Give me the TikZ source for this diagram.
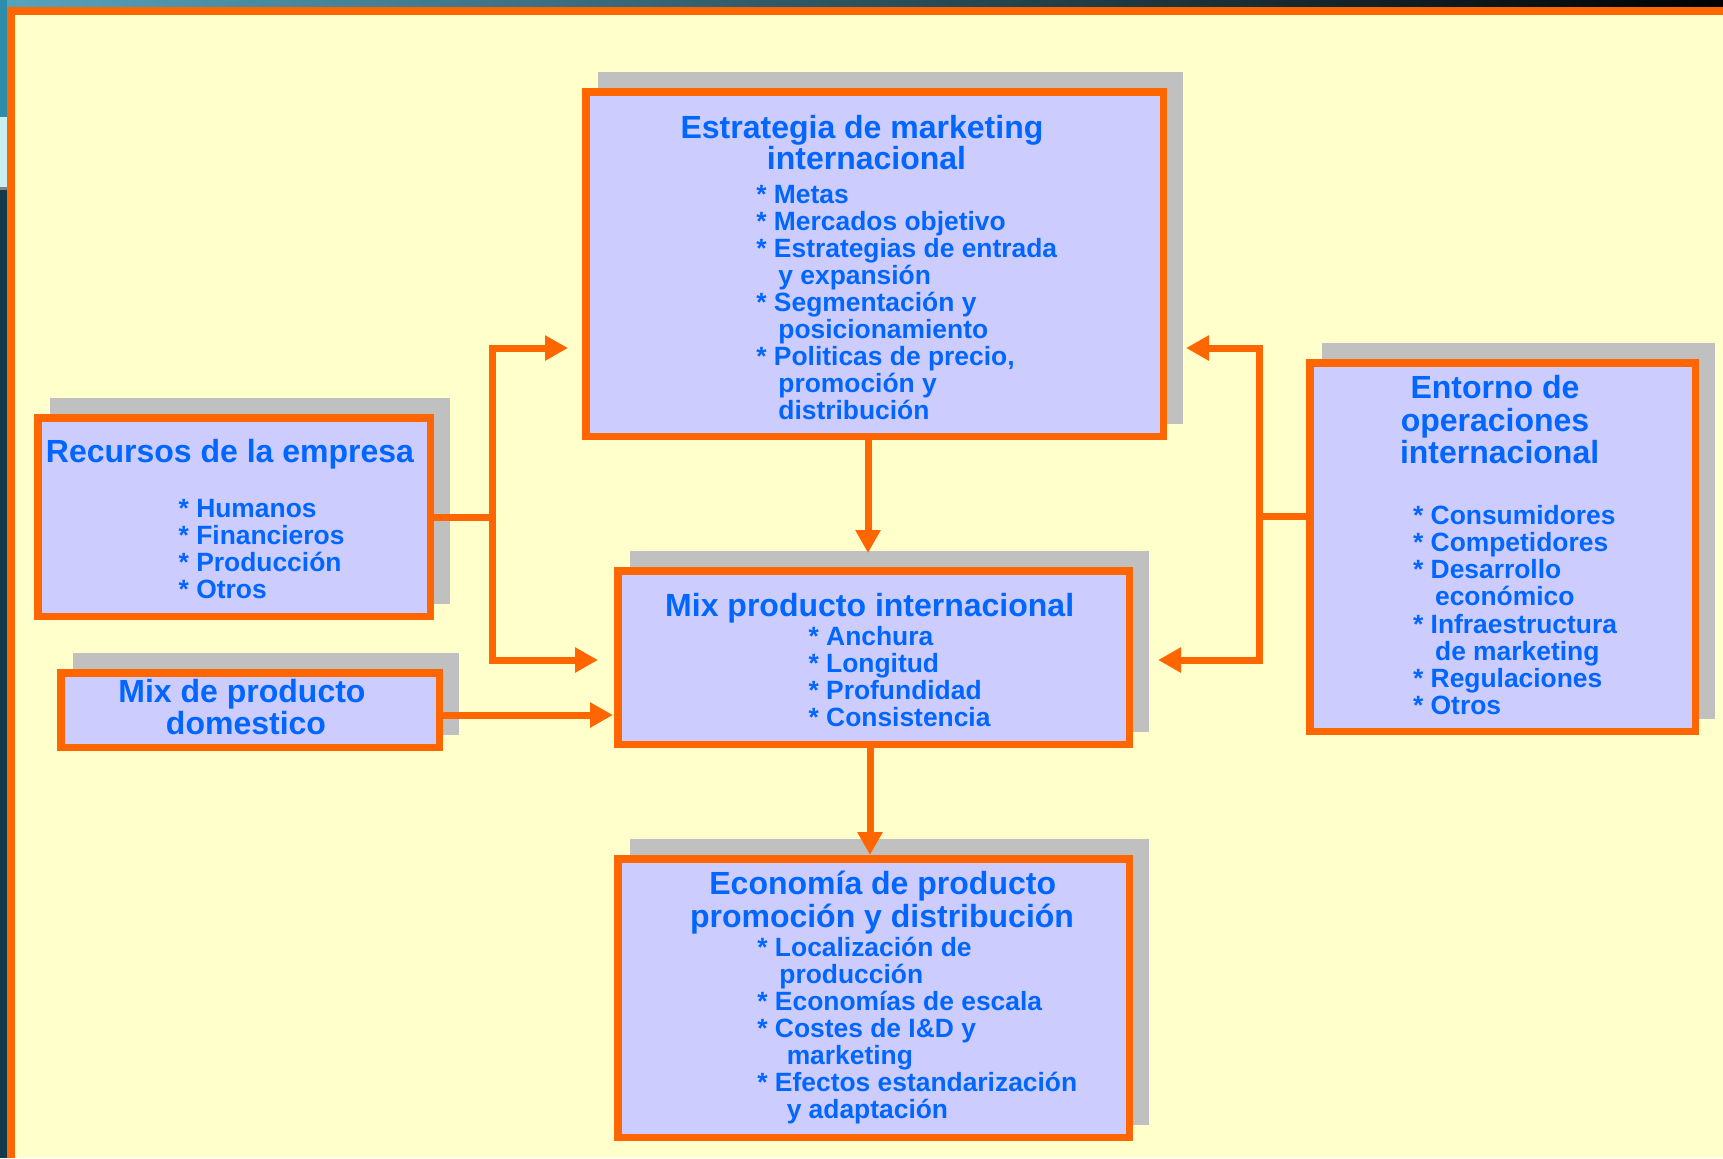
\documentclass[tikz,border=0pt]{standalone}
\usepackage{fontspec}
\setmainfont{Liberation Sans}
\usetikzlibrary{arrows.meta,calc}
\definecolor{orng}{HTML}{FF6600}
\definecolor{lav}{HTML}{CCCCFF}
\definecolor{shgray}{HTML}{C0C0C0}
\definecolor{bgy}{HTML}{FFFFCC}
\definecolor{tblue}{HTML}{0066FF}
\definecolor{darkstrip}{HTML}{123A4A}
\definecolor{lightstrip}{HTML}{C8F0F0}
\definecolor{tealstrip}{HTML}{2E8CAC}
\newcommand\indsp[1]{\hspace*{#1\fontdimen2\font}}
\begin{document}
\begin{tikzpicture}[x=0.5pt,y=-0.5pt,
  ttl/.style={font=\fontsize{16}{16}\selectfont\bfseries, text=tblue, inner sep=0pt, anchor=base},
  itm/.style={font=\fontsize{13.2}{13.2}\selectfont\bfseries, text=tblue, inner sep=0pt, anchor=base west},
  mainbox/.style={draw=orng, line width=3.75pt, fill=lav, inner sep=0pt},
  shbox/.style={fill=shgray, draw=none},
  ln/.style={draw=orng, line width=3.5pt},
  arr/.style={ln, -{Triangle[length=11.5pt,width=12pt]}}]
\useasboundingbox (0,0) rectangle (1723,1158);
% background
\shade[left color=tealstrip!80!white, right color=black] (0,0) rectangle (1723,7);
\fill[tealstrip] (0,0) rectangle (7,117);
\fill[lightstrip] (0,117) rectangle (7,187);
\fill[gray] (0,187) rectangle (7,190);
\fill[darkstrip] (0,190) rectangle (7,1158);
\fill[orng] (7,7) rectangle (1723,15);
\fill[orng] (7,7) rectangle (15,1158);
\fill[bgy] (15,15) rectangle (1723,1158);
% boxes
\fill[shbox] (598,72) rectangle (1183,424);
\node[mainbox, minimum width=288.75pt, minimum height=172.25pt] (est) at (874.5,264) {};
\fill[shbox] (50,398) rectangle (450,604);
\node[mainbox, minimum width=196.25pt, minimum height=99.25pt] (rec) at (234,517) {};
\fill[shbox] (73,653) rectangle (459,735);
\node[mainbox, minimum width=189.25pt, minimum height=37.25pt] (dom) at (250,710) {};
\fill[shbox] (1322,343) rectangle (1715,719);
\node[mainbox, minimum width=192.75pt, minimum height=184.25pt] (ent) at (1502.5,547) {};
\fill[shbox] (630,551) rectangle (1149,732);
\node[mainbox, minimum width=255.75pt, minimum height=86.75pt] (mixi) at (873.5,657.5) {};
\fill[shbox] (630,839) rectangle (1149,1125);
\node[mainbox, minimum width=255.75pt, minimum height=139.25pt] (eco) at (873.5,998) {};
% texts: Estrategia
\node[ttl] (est-t1) at (862,138) {Estrategia de marketing};
\node[ttl] (est-t2) at (866.5,169) {internacional};
\foreach \yy/\txt [count=\k] in {203/{* Metas}, 230.1/{* Mercados objetivo},
  257.2/{* Estrategias de entrada}, 284.3/{\indsp3y expansión},
  311.4/{* Segmentación y}, 338.5/{\indsp3posicionamiento},
  365.6/{* Politicas de precio,}, 392.7/{\indsp3promoción y},
  419.8/{\indsp3distribución}}
  {\node[itm] (est-\k) at (756,\yy) {\txt};}
% Recursos
\node[ttl] (rec-t1) at (230,462.5) {Recursos de la empresa};
\foreach \yy/\txt [count=\k] in {517/{* Humanos}, 544.1/{* Financieros},
  571.2/{* Producción}, 598.3/{* Otros}}
  {\node[itm] (rec-\k) at (178.3,\yy) {\txt};}
% Mix domestico
\node[ttl] (dom-t1) at (242,702.5) {Mix de producto};
\node[ttl] (dom-t2) at (246,734) {domestico};
% Entorno
\node[ttl] (ent-t1) at (1495,398.5) {Entorno de};
\node[ttl] (ent-t2) at (1495,431) {operaciones};
\node[ttl] (ent-t3) at (1499.6,463.5) {internacional};
\foreach \yy/\txt [count=\k] in {524.3/{* Consumidores}, 551.5/{* Competidores},
  578.7/{* Desarrollo}, 605.9/{\indsp3económico},
  633.1/{* Infraestructura}, 660.3/{\indsp3de marketing},
  687.5/{* Regulaciones}, 714.7/{* Otros}}
  {\node[itm] (ent-\k) at (1412.7,\yy) {\txt};}
% Mix internacional
\node[ttl] (mixi-t1) at (869.7,616) {Mix producto internacional};
\foreach \yy/\txt [count=\k] in {645.3/{* Anchura}, 672.5/{* Longitud},
  699.7/{* Profundidad}, 726.9/{* Consistencia}}
  {\node[itm] (mixi-\k) at (808.2,\yy) {\txt};}
% Economia
\node[ttl] (eco-t1) at (882.7,894.3) {Economía de producto};
\node[ttl] (eco-t2) at (882,927.7) {promoción y distribución};
\foreach \yy/\txt [count=\k] in {956/{* Localización de}, 983/{\indsp3producción},
  1010/{* Economías de escala}, 1037/{* Costes de I\&D y},
  1064/{\indsp4marketing}, 1091/{* Efectos estandarización},
  1118/{\indsp4y adaptación}}
  {\node[itm] (eco-\k) at (757,\yy) {\txt};}
% connectors
\coordinate (a1) at (868,553);
\coordinate (a2) at (870,855);
\draw[arr] (est.south -| a1) -- (a1);
\draw[arr] (mixi.south -| a2) -- (a2);
\coordinate (lmid) at (492,517);
\coordinate (ltip1) at (568,348);
\coordinate (ltip2) at (598,660);
\draw[ln] (rec.east) -- (lmid);
\draw[arr] (lmid) |- (ltip1);
\draw[arr] (lmid) |- (ltip2);
\coordinate (dtip) at (613,715);
\draw[arr] (dom.east |- dtip) -- (dtip);
\coordinate (rmid) at (1259,516);
\coordinate (rtip1) at (1186,348);
\coordinate (rtip2) at (1158,660);
\draw[ln] (ent.west |- rmid) -- (rmid);
\draw[arr] (rmid) |- (rtip1);
\draw[arr] (rmid) |- (rtip2);
\end{tikzpicture}
\end{document}
